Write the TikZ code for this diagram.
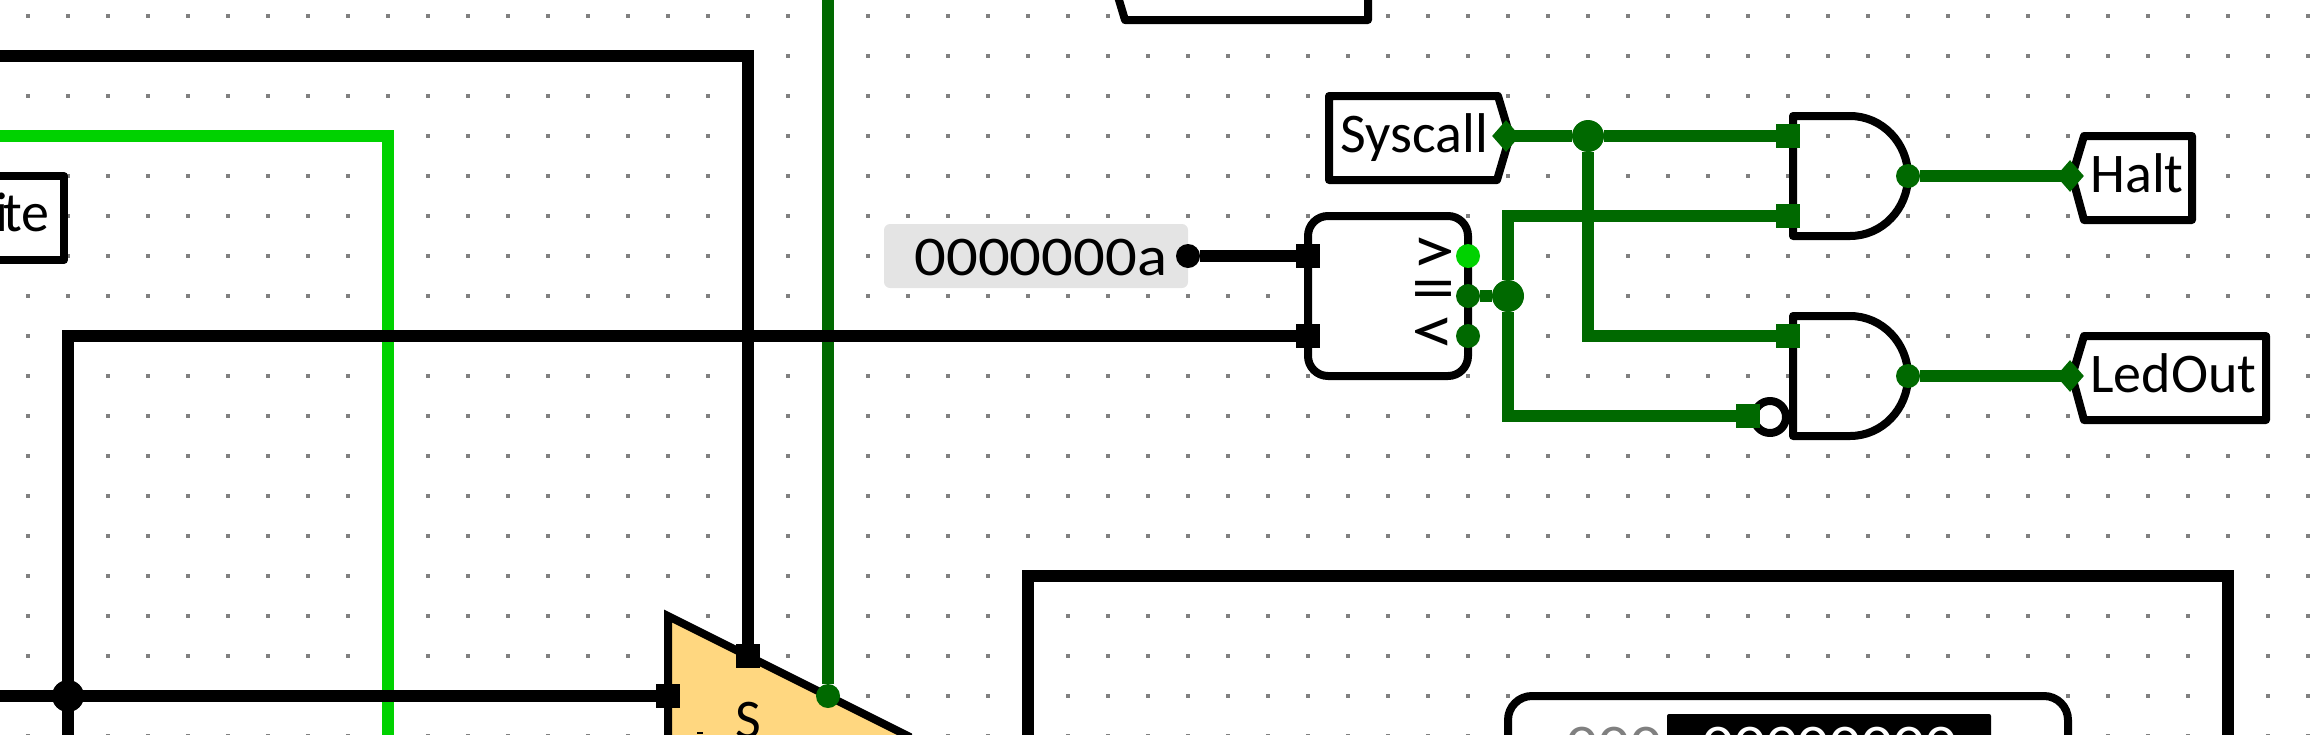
\documentclass[tikz,border=0pt]{standalone}
\usepackage{fontspec}
\setmainfont{Carlito}
\newfontfamily\digitfont[FakeStretch=1.12]{Carlito}
\newfontfamily\signfont[FakeStretch=1.3]{Carlito}
\usetikzlibrary{shapes.geometric}
\definecolor{lowgreen}{RGB}{0,105,0}
\definecolor{highgreen}{RGB}{0,210,0}
\definecolor{muxyellow}{RGB}{255,215,128}
\definecolor{constgray}{RGB}{228,228,228}
\tikzset{
  wirelow/.style={draw=lowgreen,line width=6pt},
  wirehigh/.style={draw=highgreen,line width=6pt},
  wirebus/.style={draw=black,line width=6pt},
  outline/.style={draw=black,line width=4pt,line join=round},
  tunnelbox/.style={outline,fill=white},
  inport/.style={rectangle,fill=#1,minimum size=12pt,inner sep=0pt},
  outport/.style={circle,fill=#1,minimum size=12pt,inner sep=0pt},
  junction/.style={circle,fill=#1,minimum size=16pt,inner sep=0pt},
  tip/.style={diamond,fill=lowgreen,minimum width=14pt,minimum height=16pt,inner sep=0pt},
  label/.style={inner sep=0pt,font=\fontsize{28}{28}\selectfont},
  hexlabel/.style={inner sep=0pt,font=\digitfont\fontsize{28}{28}\selectfont},
  sign/.style={inner sep=0pt,font=\signfont\fontsize{34}{34}\selectfont},
}
\begin{document}
\begin{tikzpicture}[x=0.5pt,y=-0.5pt]
\useasboundingbox (0,0) rectangle (2318,734);
\clip (0,0) rectangle (2318,734);
% Grid:
\foreach \i in {0,...,57}
  \foreach \j in {0,...,18}
    \fill [gray] ({26+40*\i},{14+40*\j}) rectangle ++(4,4);
% Multiplexer:
\draw [outline,line join=miter,fill=muxyellow] (668,616) -- (908,736) -- (908,900) -- (668,900) -- cycle;
\node [label,anchor=base] (muxLabel) at (748,738) {S};
\fill (697,732) rectangle (703,734);
% Constant:
\node [fill=constgray,rounded corners=3pt,minimum width=152pt,minimum height=32pt,inner sep=0pt] (constBox) at (1036,256) {};
\node [hexlabel,anchor=base west] (constText) at (914,275) {0000000a};
% Comparator:
\draw [tunnelbox,rounded corners=10pt] (1308,216) rectangle (1468,376);
\node [sign] (signGt) at (1433,256) {>};
\node [sign] (signEq) at (1433,296) {=};
\node [sign] (signLt) at (1433,336) {<};
% Gates:
\foreach \g in {0,200}
  \draw [outline,shift={(0,\g)}] (1793,116) -- (1850,116) .. controls (1882,116) and (1908,143) .. (1908,176)
    .. controls (1908,209) and (1882,236) .. (1850,236) -- (1793,236) -- cycle;
\draw [outline] (1770,417) circle (16);
% Tunnels:
\draw [tunnelbox] (1113,-20) -- (1125,20) -- (1368,20) -- (1368,-20);
\draw [tunnelbox] (1329,96) -- (1498,96) -- (1510,136) -- (1497,180) -- (1329,180) -- cycle;
\node [label,anchor=base west] (sysText) at (1340,152) {Syscall};
\draw [tunnelbox] (2072,176) -- (2084,136) -- (2192,136) -- (2192,220) -- (2084,220) -- cycle;
\node [label,anchor=base west] (haltText) at (2090,192) {Halt};
\draw [tunnelbox] (2072,376) -- (2084,336) -- (2266,336) -- (2266,420) -- (2084,420) -- cycle;
\node [label,anchor=base west] (ledText) at (2090,392) {LedOut};
\draw [tunnelbox] (-20,176) -- (64,176) -- (64,260) -- (-20,260);
\node [label,anchor=base east] (writeText) at (50,231) {i\kern-2.5pt te};
% Register:
\draw [draw=black,line width=6pt] (1028,900) -- (1028,576) -- (2228,576) -- (2228,900);
\draw [tunnelbox,rounded corners=12pt] (1508,696) rectangle (2068,900);
\fill [rounded corners=1pt] (1667,714) rectangle (1991,900);
\node [hexlabel,anchor=base west,text=gray] (regHigh) at (1566,763) {000};
\node [hexlabel,anchor=base west,text=white] (regLow) at (1702,763) {00000000};
% Ports:
\node [inport=black] (muxA) at (668,696) {};
\node [inport=black] (muxS) at (748,656) {};
\node [outport=lowgreen] (muxE) at (828,696) {};
\node [inport=black] (cmpA) at (1308,256) {};
\node [inport=black] (cmpB) at (1308,336) {};
\node [outport=highgreen] (cmpGt) at (1468,256) {};
\node [outport=lowgreen] (cmpEq) at (1468,296) {};
\node [outport=lowgreen] (cmpLt) at (1468,336) {};
\node [inport=lowgreen] (haltA) at (1788,136) {};
\node [inport=lowgreen] (haltB) at (1788,216) {};
\node [outport=lowgreen] (haltY) at (1908,176) {};
\node [inport=lowgreen] (ledA) at (1788,336) {};
\node [inport=lowgreen] (ledB) at (1748,416) {};
\node [outport=lowgreen] (ledY) at (1908,376) {};
\node [outport=black] (constOut) at (1188,256) {};
% Junctions and tunnel tips:
\node [junction=black] (joinBus) at (68,696) {};
\node [junction=lowgreen] (joinEq) at (1508,296) {};
\node [junction=lowgreen] (joinSys) at (1588,136) {};
\node [tip] (tipSys) at (1506,136) {};
\node [tip] (tipHalt) at (2070,176) {};
\node [tip] (tipLed) at (2070,376) {};
% Free wire ends:
\coordinate (edgeTop) at (0,56);
\coordinate (edgeHigh) at (0,136);
\coordinate (edgeBus) at (0,696);
\coordinate (edgeLow) at (828,-10);
\coordinate (edgeDownHigh) at (388,744);
\coordinate (edgeDownBus) at (68,744);
\coordinate (cornerBus) at (68,336);
\coordinate (cornerEqUp) at (1508,216);
\coordinate (cornerEqDown) at (1508,416);
\coordinate (cornerSys) at (1588,336);
% Wires:
\draw [wirehigh] (edgeHigh) -| (edgeDownHigh);
\draw [wirelow] (edgeLow) -- (muxE);
\draw [wirelow] (tipSys.center) -- (joinSys);
\draw [wirelow] (joinSys) -- (haltA);
\draw [wirelow] (joinSys) -- (cornerSys) -- (ledA);
\draw [wirelow] (cmpEq) -- (joinEq);
\draw [wirelow] (joinEq) -- (cornerEqUp) -- (haltB);
\draw [wirelow] (joinEq) -- (cornerEqDown) -- (ledB);
\draw [wirelow] (haltY) -- (tipHalt.center);
\draw [wirelow] (ledY) -- (tipLed.center);
\draw [wirebus] (edgeTop) -| (muxS);
\draw [wirebus] (edgeBus) -- (muxA);
\draw [wirebus] (edgeDownBus) -- (cornerBus) -- (cmpB);
\draw [wirebus] (constOut) -- (cmpA);
\end{tikzpicture}
\end{document}
